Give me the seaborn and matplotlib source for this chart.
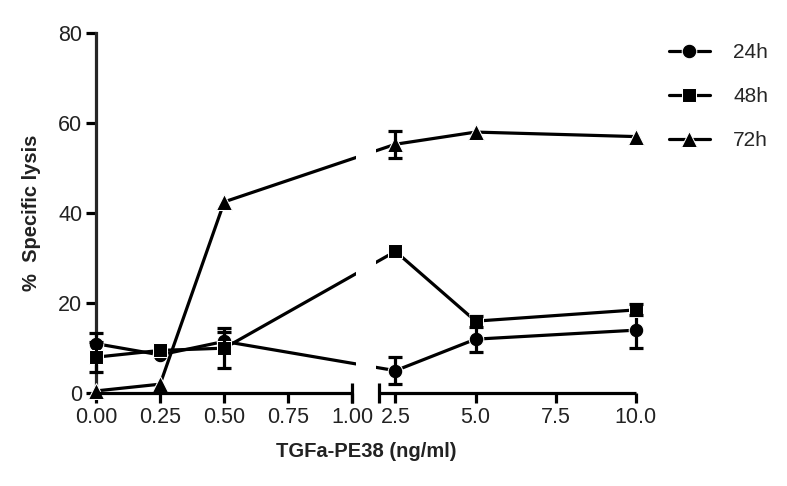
import numpy as np
import pandas as pd
import seaborn as sns
import matplotlib
matplotlib.use("Agg")
import matplotlib.pyplot as plt

# data (mean and error, nan = no visible bar)
nan = np.nan
dose = [0, 0.25, 0.5, 2.5, 5.0, 10.0]
lysis_24h = [11.0, 8.5, 11.5, 5.0, 12.0, 14.0]
err_24h = [2.3, nan, 2.0, 3.0, 2.9, 4.0]
lysis_48h = [8.0, 9.5, 10.0, 31.5, 16.0, 18.5]
err_48h = [3.3, nan, 4.5, nan, 1.2, 1.2]
lysis_72h = [0.5, 2.0, 42.5, 55.3, 58.0, 57.0]
err_72h = [nan, nan, nan, 3.0, nan, nan]

xticks = [0, 0.25, 0.5, 0.75, 1.0, 2.5, 5.0, 7.5, 10.0]
xticklabels = ["0.00", "0.25", "0.50", "0.75", "1.00", "2.5", "5.0", "7.5", "10.0"]
yticks = [0, 20, 40, 60, 80]

series = [("24h", lysis_24h, err_24h, "o"),
          ("48h", lysis_48h, err_48h, "s"),
          ("72h", lysis_72h, err_72h, "^")]

# broken x axis: 0-1 and 2-10 get the same width, small gap between
GAP = 0.105


def fwd(x):
    x = np.asarray(x, dtype=float)
    return np.where(x <= 1, x, np.where(x < 2, 1 + (x - 1) * GAP, 1 + GAP + (x - 2) / 8.0))


def inv(t):
    t = np.asarray(t, dtype=float)
    return np.where(t <= 1, t, np.where(t < 1 + GAP, 1 + (t - 1) / GAP, 2 + (t - 1 - GAP) * 8.0))


sns.set_style("ticks")
plt.rcParams["font.family"] = ["Liberation Sans", "DejaVu Sans"]

fig, ax = plt.subplots(figsize=(7.87, 4.86), dpi=100)
fig.subplots_adjust(left=0.122, right=0.808, bottom=0.191, top=0.932)
ax.set_xscale("function", functions=(fwd, inv))

msize = {"o": 10.5, "s": 10.5, "^": 11.5}
for name, vals, errs, mk in series:
    sns.lineplot(x=dose, y=vals, ax=ax, color="black", marker=mk, markersize=msize[mk],
                 linewidth=2.3, label=name, clip_on=False, zorder=3)
    ax.errorbar(dose, vals, yerr=errs, fmt="none", ecolor="black", elinewidth=2.3,
                capsize=4.8, capthick=2.3, clip_on=False, zorder=3)

# white out the gap of the break
ax.axvspan(1.13, 1.87, color="white", zorder=4, lw=0)

ax.set_xlim(0, 10)
ax.set_ylim(0, 80)
ax.set_xticks(xticks)
ax.set_xticklabels(xticklabels)
ax.set_yticks(yticks)

sns.despine(ax=ax)
ax.spines["bottom"].set_visible(False)
ax.spines["left"].set_linewidth(2.3)
trans = ax.get_xaxis_transform()
for seg in ([0, 1.0], [2.0, 10.0]):
    ax.plot(seg, [0, 0], color="black", lw=2.3, transform=trans, clip_on=False, zorder=5,
            solid_capstyle="butt")
ax.plot([1.0, 2.0], [0, 0], ls="none", marker="|", markersize=14, mew=2.3, color="black",
        transform=trans, clip_on=False, zorder=5)

ax.tick_params(axis="both", labelsize=15.5, width=2.3, length=7, color="black", labelcolor="#222222")
ax.tick_params(axis="y", pad=3)
ax.tick_params(axis="x", pad=3)

ax.set_xlabel("TGFa-PE38 (ng/ml)", fontsize=14.5, fontweight="bold", labelpad=10, color="#222222")
ax.set_ylabel("%  Specific lysis", fontsize=14.5, fontweight="bold", labelpad=12, color="#222222")

ax.legend(loc="upper left", bbox_to_anchor=(1.045, 0.995), frameon=False, fontsize=15,
          handlelength=2.0, handletextpad=1.1, labelspacing=1.2, borderaxespad=0)

plt.savefig("out.png", dpi=100)
